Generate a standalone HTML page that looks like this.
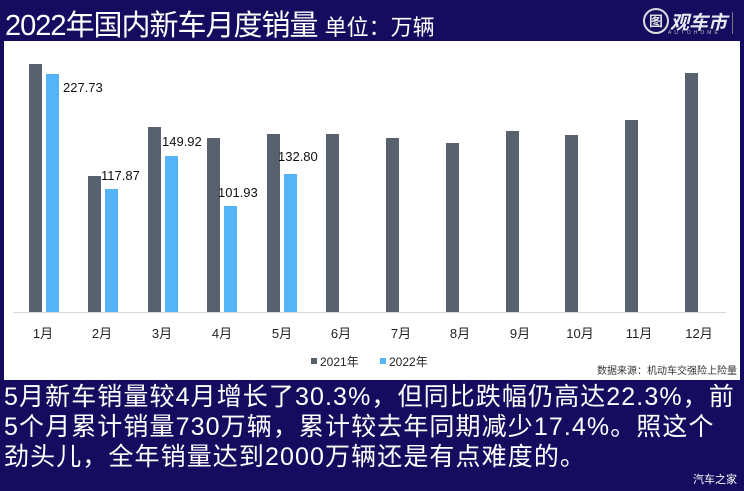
<!DOCTYPE html>
<html><head><meta charset="utf-8"><style>
body{margin:0;width:744px;height:491px;background:#150c60;overflow:hidden;position:relative;font-family:"Liberation Sans","Noto Sans CJK SC",sans-serif}
.t{position:absolute;white-space:nowrap}
</style></head><body>
<div class="t" style="left:5px;top:2px;font-size:29px;color:#fff;letter-spacing:-1px">2022年国内新车月度销量 <span style="font-size:22px;letter-spacing:0">单位：万辆</span></div>
<div class="t" style="left:643px;top:8px;width:22px;height:22px;border:2px solid #ddd;border-radius:50%;color:#ddd;font-size:14px;line-height:22px;text-align:center;font-weight:bold">图</div>
<div class="t" style="left:670px;top:8px;font-size:19px;color:#e8e8f0;font-weight:bold;font-style:italic">观车市</div>
<div class="t" style="left:668px;top:30px;font-size:5px;color:#bbb;letter-spacing:3px">AUTOHOME</div>
<div class="t" style="left:732px;top:12px;width:1px;height:22px;background:#777"></div>
<svg class="t" style="left:4px;top:41px" width="736" height="339" viewBox="4 41 736 339">
<rect x="4" y="41" width="736" height="339" fill="#fff"/>
<line x1="13" y1="312.5" x2="726" y2="312.5" stroke="#d9d9d9"/>
<g fill="#58626f">
<rect x="29" y="64" width="13" height="248"/><rect x="88" y="176" width="13" height="136"/><rect x="148" y="127" width="13" height="185"/><rect x="207" y="138" width="13" height="174"/><rect x="267" y="134" width="13" height="178"/><rect x="326" y="134" width="13" height="178"/><rect x="386" y="138" width="13" height="174"/><rect x="446" y="143" width="13" height="169"/><rect x="506" y="131" width="13" height="181"/><rect x="565" y="135" width="13" height="177"/><rect x="625" y="120" width="13" height="192"/><rect x="685" y="73" width="13" height="239"/>
</g>
<g fill="#55b3f7">
<rect x="46" y="74" width="13" height="238"/><rect x="105" y="189" width="13" height="123"/><rect x="165" y="156" width="13" height="156"/><rect x="224" y="206" width="13" height="106"/><rect x="284" y="174" width="13" height="138"/>
</g>
<g font-size="13" fill="#111" font-family="Liberation Sans,sans-serif">
<text x="63" y="92">227.73</text><text x="101" y="180">117.87</text><text x="162" y="146">149.92</text><text x="218" y="197">101.93</text><text x="278" y="161">132.80</text>
</g>
<g font-size="13" fill="#222" text-anchor="middle" font-family="Liberation Sans,Noto Sans CJK SC,sans-serif">
<text x="43" y="338">1月</text><text x="102" y="338">2月</text><text x="162" y="338">3月</text><text x="222" y="338">4月</text><text x="282" y="338">5月</text><text x="341" y="338">6月</text><text x="401" y="338">7月</text><text x="460" y="338">8月</text><text x="520" y="338">9月</text><text x="580" y="338">10月</text><text x="639" y="338">11月</text><text x="699" y="338">12月</text>
</g>
<rect x="311" y="358" width="6" height="6" fill="#58626f"/><text x="320" y="366" font-size="12" fill="#222" font-family="Liberation Sans,Noto Sans CJK SC,sans-serif">2021年</text>
<rect x="380" y="358" width="6" height="6" fill="#55b3f7"/><text x="389" y="366" font-size="12" fill="#222" font-family="Liberation Sans,Noto Sans CJK SC,sans-serif">2022年</text>
<text x="737" y="374" text-anchor="end" font-size="10" fill="#333" font-family="Liberation Sans,Noto Sans CJK SC,sans-serif">数据来源：机动车交强险上险量</text>
</svg>
<div class="t" style="left:4px;top:382px;font-size:25px;line-height:30px;color:#fff;letter-spacing:1.1px">5月新车销量较4月增长了30.3%，但同比跌幅仍高达22.3%，前<br>5个月累计销量730万辆，累计较去年同期减少17.4%。照这个<br>劲头儿，全年销量达到2000万辆还是有点难度的。</div>
<div class="t" style="left:693px;top:471px;font-size:11px;color:#fff">汽车之家</div>
</body></html>
